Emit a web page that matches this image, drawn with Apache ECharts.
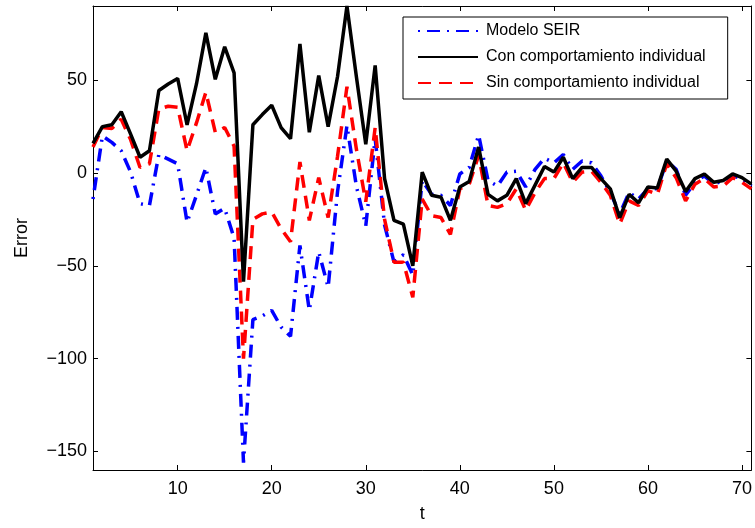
<!DOCTYPE html>
<html>
<head>
<meta charset="utf-8">
<script src="https://cdn.jsdelivr.net/npm/echarts@6/dist/echarts.min.js"></script>
<style>
  html, body { margin: 0; padding: 0; background: #fff; }
  #chart { width: 755px; height: 528px; }
</style>
</head>
<body>
<div id="chart"></div>
<script>
// Time steps t = 1 … 71
const tValues = Array.from({ length: 71 }, (_, i) => i + 1);

// Error of the plain SEIR model
const seirError = [
  -14, 20, 16.5, 12, 0.5, -16.5, -17.5, 10, 7.5, 5,
  -26.5, -12, 3, -22, -19, -35, -156, -79, -77, -74,
  -83, -88, -39, -74, -42.5, -61.5, -10, 25.5, -7, -28.5,
  18.5, -28, -48, -44, -55, -4, -11.5, -12, -17.5, -0.5,
  3, 20.5, -4, -7, 0.5, 1, -7.5, 2, 8, 5.5,
  10, 2, 6.5, 5.5, -1.5, -10.5, -22, -10.5, -14, -8.5,
  -8.5, 6.5, 2, -12, -5, -1.5, -6, -4, -1.5, -3,
  -7
];

// Error with individual behaviour
const conError = [
  16, 25, 26, 33, 21, 8.5, 12, 44.5, 48, 51,
  26, 48, 75.5, 50.5, 68, 54, -58.5, 26, 31.5, 36.5,
  24.5, 18.5, 69.5, 22, 52.5, 25, 52, 90, 52, 15.5,
  58, -3, -25.5, -27.5, -50, 0.5, -12, -13, -25.5, -7.5,
  -4.5, 14, -11.5, -15, -12, -3, -16.5, -6.5, 3.5, 0.5,
  8.5, -3, 3, 3, -3, -8.5, -24, -11.5, -16, -7.5,
  -8, 7.5, 1, -10, -3, -0.5, -5, -4, -0.5, -2.5,
  -6
];

// Error without individual behaviour
const sinError = [
  14, 24.5, 24, 29, 18, 3, 5, 34.5, 36, 35.5,
  12, 27, 43.5, 22, 24.5, 14.5, -100, -25, -22, -21,
  -30, -37, 6, -25.5, -2.5, -24, 9, 46.5, 13, -15.5,
  24.5, -25, -48, -48, -67, -14, -23, -24, -33, -8.5,
  -6, 9.5, -17.5, -18.5, -16.5, -8.5, -20, -10.5, -3, -3,
  5.5, -5, 0.5, 1, -5, -12, -27.5, -15, -17.5, -9.5,
  -11.5, 5, -2.5, -15, -6, -3, -7.5, -7, -2.5, -5,
  -8.5
];

const xTicks = [10, 20, 30, 40, 50, 60, 70];
const yTicks = [-150, -100, -50, 0, 50];

const seriesNames = ['Modelo SEIR', 'Con comportamiento individual', 'Sin comportamiento individual'];

const pairs = (ys) => tValues.map((t, i) => [t, ys[i]]);
const FONT = '"Liberation Sans", Arial, Helvetica, sans-serif';
const minus = (v) => String(v).replace('-', '\u2212');

function xAxisDef(pos, showLabels) {
  return {
    type: 'value', position: pos, min: 1, max: 71,
    splitLine: { show: false },
    axisLine: { show: true, onZero: false, lineStyle: { color: '#000', width: 1 } },
    axisTick: { show: true, inside: true, length: 5, customValues: xTicks, lineStyle: { color: '#000' } },
    axisLabel: { show: showLabels, customValues: xTicks, margin: 10, color: '#000', fontFamily: FONT, fontSize: 18, formatter: minus },
    name: showLabels ? 't' : '', nameLocation: 'middle', nameGap: 35,
    nameTextStyle: { color: '#000', fontFamily: FONT, fontSize: 18 }
  };
}
function yAxisDef(pos, showLabels) {
  return {
    type: 'value', position: pos, min: -160, max: 90,
    splitLine: { show: false },
    axisLine: { show: true, onZero: false, lineStyle: { color: '#000', width: 1 } },
    axisTick: { show: true, inside: true, length: 5, customValues: yTicks, lineStyle: { color: '#000' } },
    axisLabel: { show: showLabels, customValues: yTicks, margin: 6, color: '#000', fontFamily: FONT, fontSize: 18, formatter: minus },
    name: showLabels ? 'Error' : '', nameLocation: 'middle', nameGap: 62, nameRotate: 90,
    nameTextStyle: { color: '#000', fontFamily: FONT, fontSize: 18 }
  };
}

const chart = echarts.init(document.getElementById('chart'), null, { renderer: 'canvas' });
chart.setOption({
  animation: false,
  backgroundColor: '#fff',
  grid: { left: 93, right: 3, top: 6, bottom: 56, containLabel: false },
  xAxis: [xAxisDef('bottom', true), xAxisDef('top', false)],
  yAxis: [yAxisDef('left', true), yAxisDef('right', false)],
  legend: {
    data: seriesNames,
    orient: 'vertical', left: 403, top: 17,
    padding: [6, 22, 8, 14],
    itemWidth: 60, itemHeight: 16, itemGap: 10,
    itemStyle: { opacity: 0 },
    backgroundColor: '#fff', borderColor: '#000', borderWidth: 1,
    textStyle: { color: '#000', fontFamily: FONT, fontSize: 16, padding: [0, 0, 0, 3] }
  },
  series: [
    {
      name: seriesNames[0], type: 'line', data: pairs(seirError),
      symbol: 'none', showSymbol: false, z: 2,
      lineStyle: { color: '#0000ff', width: 3.5, type: [2, 7, 13, 7] },
      itemStyle: { color: '#0000ff' }
    },
    {
      name: seriesNames[2], type: 'line', data: pairs(sinError),
      symbol: 'none', showSymbol: false, z: 3,
      lineStyle: { color: '#ff0000', width: 3.5, type: [13, 8] },
      itemStyle: { color: '#ff0000' }
    },
    {
      name: seriesNames[1], type: 'line', data: pairs(conError),
      symbol: 'none', showSymbol: false, z: 4,
      lineStyle: { color: '#000', width: 3.5, type: 'solid' },
      itemStyle: { color: '#000' }
    }
  ]
});
</script>
</body>
</html>
